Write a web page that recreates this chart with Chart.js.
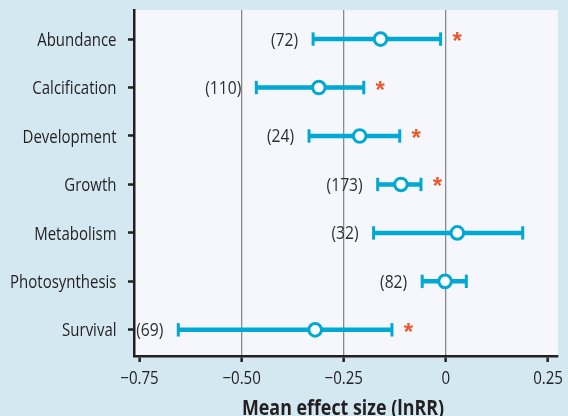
<!DOCTYPE html>
<html>
<head>
<meta charset="utf-8">
<script src="https://cdn.jsdelivr.net/npm/chart.js@4.4.1/dist/chart.umd.min.js"></script>
<style>
  html, body { margin: 0; padding: 0; background: #d3e8f0; }
  canvas { display: block; }
</style>
</head>
<body>
<canvas id="chart" width="568" height="416"></canvas>
<script>
// Response categories, top to bottom
const categories = ['Abundance', 'Calcification', 'Development', 'Growth', 'Metabolism', 'Photosynthesis', 'Survival'];
// Mean effect size (lnRR) and its confidence limits
const means = [-0.160, -0.311, -0.211, -0.110, 0.028, -0.002, -0.320];
const lower = [-0.325, -0.464, -0.335, -0.167, -0.177, -0.058, -0.655];
const upper = [-0.013, -0.201, -0.113, -0.061, 0.188, 0.050, -0.132];
// Number of studies per response
const counts = [72, 110, 24, 173, 32, 82, 69];
// Significant effects marked with an asterisk
const significant = [true, true, true, true, false, false, true];
// X axis ticks
const xTicks = [-0.75, -0.50, -0.25, 0, 0.25];
const xTickLabels = ['\u22120.75', '\u22120.50', '\u22120.25', '0', '0.25'];
const xGridValues = [-0.50, -0.25, 0];
const xTitle = 'Mean effect size (lnRR)';

const FONT = '"Open Sans", "Liberation Sans", sans-serif';
const CYAN = '#00a9d3';
const INK = '#231f20';

// Draw condensed text: x is the anchor according to align
function narrowText(ctx, text, x, y, font, color, align, sx) {
  ctx.save();
  ctx.font = font;
  ctx.fillStyle = color;
  ctx.textAlign = align;
  ctx.textBaseline = 'alphabetic';
  ctx.translate(x, y);
  ctx.scale(sx, 1);
  ctx.fillText(text, 0, 0);
  ctx.restore();
}

const panel = {
  id: 'panel',
  beforeDraw(chart) {
    const { ctx, chartArea: a } = chart;
    ctx.save();
    ctx.fillStyle = '#d3e8f0';
    ctx.fillRect(0, 0, chart.width, chart.height);
    ctx.fillStyle = '#f5f7fc';
    ctx.fillRect(a.left, a.top, a.right - a.left, a.bottom - a.top);
    ctx.restore();
  }
};

const errorBars = {
  id: 'errorBars',
  beforeDatasetsDraw(chart) {
    const { ctx, scales: { x, y } } = chart;
    ctx.save();
    ctx.strokeStyle = CYAN;
    categories.forEach((c, i) => {
      const py = y.getPixelForValue(i);
      const x1 = x.getPixelForValue(lower[i]);
      const x2 = x.getPixelForValue(upper[i]);
      ctx.lineWidth = 4.5;
      ctx.beginPath();
      ctx.moveTo(x1, py);
      ctx.lineTo(x2, py);
      ctx.stroke();
      ctx.lineWidth = 3;
      [x1, x2].forEach(px => {
        ctx.beginPath();
        ctx.moveTo(px, py - 6.7);
        ctx.lineTo(px, py + 6.7);
        ctx.stroke();
      });
    });
    ctx.restore();
  },
  afterDatasetsDraw(chart) {
    const { ctx, scales: { x, y } } = chart;
    categories.forEach((c, i) => {
      const py = y.getPixelForValue(i);
      const x1 = x.getPixelForValue(lower[i]);
      const x2 = x.getPixelForValue(upper[i]);
      narrowText(ctx, '(' + counts[i] + ')', x1 - 15, py + 6.5, '500 18px ' + FONT, '#2e2e2e', 'right', 0.87);
      if (significant[i]) {
        ctx.save();
        ctx.font = 'bold 24px "Liberation Sans", sans-serif';
        ctx.fillStyle = '#e85a2c';
        ctx.textAlign = 'center';
        ctx.textBaseline = 'alphabetic';
        ctx.fillText('*', x2 + 16.5, py + 10);
        ctx.restore();
      }
    });
  }
};

// Axis lettering placed on the scales' own tick positions
const axisText = {
  id: 'axisText',
  afterDraw(chart) {
    const { ctx, chartArea: a, scales: { x, y } } = chart;
    categories.forEach((c, i) => {
      narrowText(ctx, c, a.left - 17.5, y.getPixelForValue(i) + 6.6, '500 18.5px ' + FONT, INK, 'right', 0.81);
    });
    xTicks.forEach((v, i) => {
      narrowText(ctx, xTickLabels[i], x.getPixelForValue(v), a.bottom + 28, '500 17.5px ' + FONT, INK, 'center', 0.86);
    });
    narrowText(ctx, xTitle, (a.left + a.right) / 2 - 3, a.bottom + 58.5, 'bold 21px ' + FONT, INK, 'center', 0.85);
  }
};

new Chart(document.getElementById('chart'), {
  type: 'scatter',
  data: {
    datasets: [{
      data: means.map((m, i) => ({ x: m, y: i })),
      pointRadius: 6.3,
      pointHoverRadius: 6.3,
      pointBorderWidth: 3,
      backgroundColor: '#ffffff',
      borderColor: CYAN
    }]
  },
  options: {
    responsive: false,
    animation: false,
    events: [],
    layout: { padding: { top: 10, right: 10, left: 0, bottom: 0 } },
    plugins: { legend: { display: false }, tooltip: { enabled: false } },
    scales: {
      x: {
        type: 'linear',
        min: -0.7634,
        max: 0.2744,
        afterBuildTicks: s => { s.ticks = xTicks.map(v => ({ value: v })); },
        afterFit: s => { s.height = 60; s.paddingLeft = 0; s.paddingRight = 0; },
        ticks: { display: false, autoSkip: false },
        grid: {
          color: c => (c.tick && xGridValues.includes(c.tick.value)) ? '#8a8a8a' : 'rgba(0,0,0,0)',
          lineWidth: 1.3,
          tickColor: INK,
          tickWidth: 2.5,
          tickLength: 6
        },
        border: { color: INK, width: 2.5 }
      },
      y: {
        type: 'linear',
        reverse: true,
        min: -0.6,
        max: 6.54,
        afterBuildTicks: s => { s.ticks = categories.map((c, i) => ({ value: i })); },
        afterFit: s => { s.width = 134; s.paddingTop = 0; s.paddingBottom = 0; },
        ticks: { display: false, autoSkip: false },
        grid: {
          drawOnChartArea: false,
          tickColor: INK,
          tickWidth: 2.5,
          tickLength: 6
        },
        border: { color: INK, width: 2.5 }
      }
    }
  },
  plugins: [panel, errorBars, axisText]
});
</script>
</body>
</html>
